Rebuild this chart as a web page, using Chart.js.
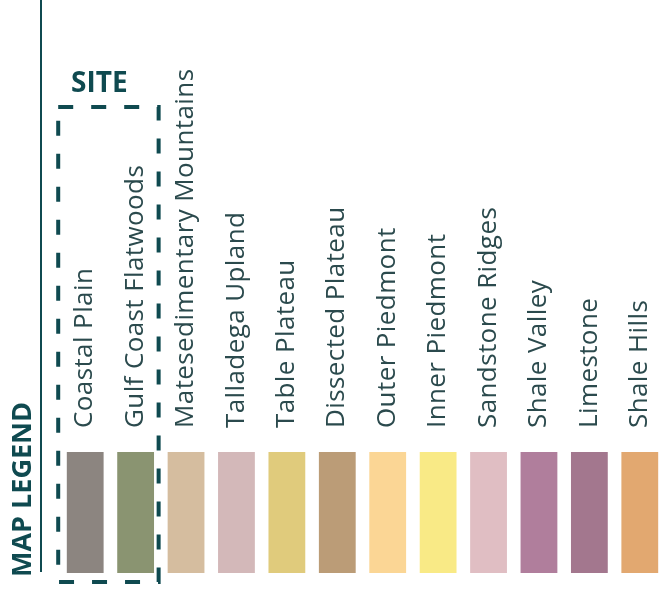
<!doctype html>
<html lang="en">
  <head>
    <meta charset="utf-8">
    <title>Map Legend</title>
    <script src="https://cdn.jsdelivr.net/npm/chart.js"></script>
    <style>
      html, body { margin: 0; padding: 0; background: #fff; }
      #legendChart { display: block; }
    </style>
  </head>
  <body>
    <canvas id="legendChart" width="665" height="593"></canvas>
    <script>
      // legend entries, left to right
      const regions = ['Coastal Plain', 'Gulf Coast Flatwoods', 'Matesedimentary Mountains', 'Talladega Upland',
        'Table Plateau', 'Dissected Plateau', 'Outer Piedmont', 'Inner Piedmont', 'Sandstone Ridges',
        'Shale Valley', 'Limestone', 'Shale Hills'];
      const swatchColors = ['#8c8580', '#8a9471', '#d5bd9f', '#d3b8b9', '#e0cb7c', '#bb9c77',
        '#fbd695', '#f9ea86', '#e0bec3', '#b07e9c', '#a3778e', '#e2a870'];
      const swatchHeights = [1, 1, 1, 1, 1, 1, 1, 1, 1, 1, 1, 1];
      const siteRegions = ['Coastal Plain', 'Gulf Coast Flatwoods'];

      const teal = '#0f4a50';

      // vertical rule, rotated heading, SITE box
      const decorations = {
        id: 'decorations',
        beforeDraw(chart) { chart.ctx.letterSpacing = '0.4px'; },
        afterDraw(chart) {
          const ctx = chart.ctx;
          const x = chart.scales.x;
          const area = chart.chartArea;
          ctx.letterSpacing = '0px';
          ctx.save();
          ctx.strokeStyle = teal;
          ctx.lineWidth = 2;
          ctx.beginPath();
          ctx.moveTo(41, 0);
          ctx.lineTo(41, area.bottom - 1);
          ctx.stroke();

          ctx.fillStyle = teal;
          ctx.save();
          ctx.translate(23, 577);
          ctx.rotate(-Math.PI / 2);
          ctx.font = 'bold 27px "Open Sans"';
          ctx.textAlign = 'left';
          ctx.textBaseline = 'middle';
          ctx.fillText('MAP LEGEND', 0, 0);
          ctx.restore();

          ctx.font = 'bold 28px "Open Sans"';
          ctx.textAlign = 'left';
          ctx.textBaseline = 'alphabetic';
          ctx.fillText('SITE', 71, 92);

          const first = x.getPixelForValue(regions.indexOf(siteRegions[0]));
          const last = x.getPixelForValue(regions.indexOf(siteRegions[siteRegions.length - 1]));
          ctx.lineWidth = 4;
          ctx.setLineDash([15, 18]);
          ctx.strokeRect(first - 27, 107, last - first + 50, area.bottom + 9 - 107);
          ctx.restore();
        }
      };

      new Chart(document.getElementById('legendChart'), {
        type: 'bar',
        data: {
          labels: regions,
          datasets: [{
            data: swatchHeights,
            backgroundColor: swatchColors,
            barPercentage: 0.73,
            categoryPercentage: 1
          }]
        },
        options: {
          responsive: false,
          animation: false,
          layout: { padding: { left: 60, right: 0, top: 0, bottom: 20 } },
          plugins: { legend: { display: false }, tooltip: { enabled: false } },
          scales: {
            x: {
              position: 'top',
              grid: { display: false, drawTicks: false },
              border: { display: false },
              ticks: {
                minRotation: 90,
                maxRotation: 90,
                autoSkip: false,
                padding: 24,
                labelOffset: 31,
                color: '#2b4a4d',
                font: { family: '"Open Sans"', size: 26 }
              },
              afterFit(scale) { scale.height = 452; }
            },
            y: { display: false, min: 0, max: 1 }
          }
        },
        plugins: [decorations]
      });
    </script>
  </body>
</html>
